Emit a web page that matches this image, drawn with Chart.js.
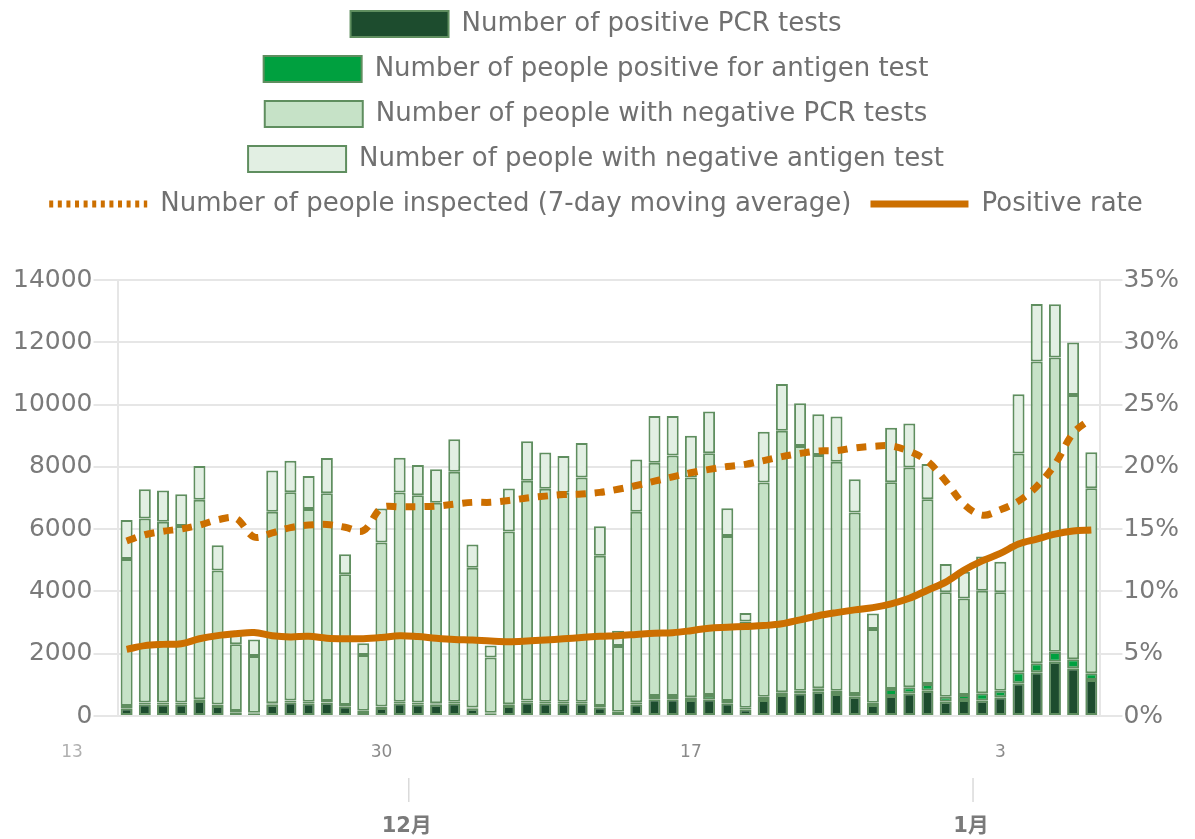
<!DOCTYPE html>
<html>
<head>
<meta charset="utf-8">
<script src="https://cdn.jsdelivr.net/npm/chart.js@4"></script>
<style>
  html, body { margin: 0; padding: 0; background: #fff; }
  #wrap { width: 1195px; height: 839px; }
</style>
</head>
<body>
<div id="wrap"><canvas id="chart"></canvas></div>
<script>
// days shown, 11/16 .. 1/8
const dates = [
  '11/16', '11/17', '11/18', '11/19', '11/20', '11/21', '11/22', '11/23', '11/24', '11/25',
  '11/26', '11/27', '11/28', '11/29', '11/30', '12/1', '12/2', '12/3', '12/4', '12/5',
  '12/6', '12/7', '12/8', '12/9', '12/10', '12/11', '12/12', '12/13', '12/14', '12/15',
  '12/16', '12/17', '12/18', '12/19', '12/20', '12/21', '12/22', '12/23', '12/24', '12/25',
  '12/26', '12/27', '12/28', '12/29', '12/30', '12/31', '1/1', '1/2', '1/3', '1/4',
  '1/5', '1/6', '1/7', '1/8'
];

// stacked bars (people)
const pcrPositive = [
  250, 380, 380, 380, 480, 320, 120, 70, 360, 440,
  410, 430, 310, 130, 260, 410, 380, 360, 410, 230,
  70, 320, 440, 410, 410, 410, 280, 100, 380, 535,
  535, 514, 535, 407, 214, 514, 674, 728, 782, 706,
  621, 353, 642, 728, 813, 460, 514, 492, 599, 1049,
  1402, 1744, 1531, 1156
];
const antigenPositive = [
  70, 50, 50, 50, 60, 50, 40, 35, 50, 55,
  50, 50, 45, 40, 45, 50, 50, 50, 50, 40,
  35, 55, 55, 50, 50, 50, 45, 40, 60, 105,
  107, 86, 139, 75, 50, 107, 86, 85, 107, 107,
  85, 70, 225, 193, 215, 161, 160, 236, 214, 353,
  289, 320, 289, 214
];
const pcrNegative = [
  4720, 5910, 5810, 5670, 6400, 4300, 2140, 1820, 6150, 6690,
  6190, 6670, 4200, 1790, 5270, 6720, 6660, 6440, 7380, 4490,
  1770, 5550, 7060, 6840, 6710, 7200, 4820, 2110, 6120, 7490,
  7720, 7060, 7760, 5300, 2770, 6880, 8400, 7860, 7490, 7350,
  5830, 2370, 6640, 7060, 5930, 3350, 3100, 3290, 3160, 7030,
  9690, 9450, 8490, 5940
];
const antigenNegative = [
  1250, 940, 1000, 1020, 1090, 815, 440, 535, 1320, 1010,
  1060, 1135, 640, 375, 1090, 1110, 970, 1070, 1050, 750,
  385, 1380, 1270, 1160, 1180, 1110, 950, 490, 1680, 1500,
  1270, 1340, 1340, 890, 270, 1630, 1500, 1370, 1310, 1450,
  1070, 500, 1750, 1410, 1130, 910, 860, 1100, 980, 1900,
  1850, 1710, 1680, 1160
];

// lines
const movingAverage = [
  5620, 5820, 5930, 6010, 6130, 6300, 6350, 5750, 5880, 6050,
  6130, 6150, 6060, 5950, 6680, 6720, 6720, 6740, 6800, 6860,
  6860, 6920, 7000, 7060, 7110, 7130, 7180, 7280, 7400, 7540,
  7680, 7810, 7920, 8010, 8080, 8200, 8330, 8430, 8510, 8520,
  8610, 8660, 8670, 8500, 8180, 7540, 6800, 6450, 6620, 6900,
  7370, 8080, 9080, 9550
];
const positiveRate = [
  5.35, 5.65, 5.75, 5.8, 6.2, 6.45, 6.6, 6.7, 6.45, 6.35,
  6.4, 6.25, 6.2, 6.2, 6.3, 6.45, 6.38, 6.25, 6.15, 6.1,
  6.02, 5.97, 6.02, 6.1, 6.2, 6.3, 6.4, 6.45, 6.55, 6.65,
  6.69, 6.85, 7.05, 7.12, 7.19, 7.26, 7.4, 7.72, 8.05, 8.3,
  8.52, 8.7, 9.0, 9.45, 10.1, 10.75, 11.7, 12.45, 13.05, 13.8,
  14.2, 14.6, 14.85, 14.93
];

// x axis labels: day numbers every 17 days (11/13 is 3 days before the first bar)
const dayTickLabels = ['13', '30', '17', '3'];
const dayTickIndex = [-3, 14, 31, 48];
const monthLabels = ['12月', '1月'];
const monthIndex = [15.5, 46.5];

const BORDER = '#5f8e5f';
const ORANGE = '#cc6f00';
const GRID = '#e6e6e6';

Chart.defaults.font.family = '"DejaVu Sans", sans-serif';
Chart.defaults.color = '#7a7a7a';

// room between the legend and the plot
const legendGap = {
  id: 'legendGap',
  beforeInit(chart) {
    const fit = chart.legend.fit;
    chart.legend.fit = function () {
      fit.bind(chart.legend)();
      this.height += 53;
    };
  }
};

// day numbers + month row under the bars
const xLabels = {
  id: 'xLabels',
  afterDraw(chart) {
    const ctx = chart.ctx;
    const xs = chart.scales.x;
    const bottom = chart.chartArea.bottom;
    ctx.save();
    ctx.textAlign = 'center';
    ctx.textBaseline = 'middle';
    ctx.font = '17px "DejaVu Sans", sans-serif';
    dayTickLabels.forEach((t, i) => {
      ctx.fillStyle = dayTickIndex[i] < 0 ? '#b0b0b0' : '#8a8a8a';
      ctx.fillText(t, xs.getPixelForValue(dayTickIndex[i]), bottom + 37);
    });
    ctx.strokeStyle = '#dadada';
    ctx.lineWidth = 1.5;
    ctx.font = 'bold 21px "DejaVu Sans", "Noto Sans CJK JP", sans-serif';
    ctx.fillStyle = '#7a7a7a';
    monthLabels.forEach((t, i) => {
      const px = xs.getPixelForValue(monthIndex[i]);
      ctx.beginPath();
      ctx.moveTo(px, bottom + 62);
      ctx.lineTo(px, bottom + 86);
      ctx.stroke();
      ctx.fillText(t, px - 2, bottom + 111);
    });
    ctx.restore();
  }
};

function barSet(label, data, color) {
  return {
    label: label,
    data: data,
    backgroundColor: color,
    borderColor: BORDER,
    borderWidth: 2,
    borderSkipped: false,
    categoryPercentage: 1,
    barPercentage: 0.66,
    yAxisID: 'y'
  };
}

new Chart(document.getElementById('chart'), {
  type: 'bar',
  data: {
    labels: dates,
    datasets: [
      barSet('Number of positive PCR tests', pcrPositive, '#1d4c2e'),
      barSet('Number of people positive for antigen test', antigenPositive, '#00a03f'),
      barSet('Number of people with negative PCR tests', pcrNegative, '#c6e2c7'),
      barSet('Number of people with negative antigen test', antigenNegative, '#e2efe3'),
      {
        type: 'line',
        label: 'Number of people inspected (7-day moving average)',
        data: movingAverage,
        borderColor: ORANGE,
        borderWidth: 7,
        borderDash: [10, 9],
        pointRadius: 0,
        tension: 0.35,
        fill: false,
        yAxisID: 'y',
        order: -1
      },
      {
        type: 'line',
        label: 'Positive rate',
        data: positiveRate,
        borderColor: ORANGE,
        borderWidth: 7,
        pointRadius: 0,
        tension: 0.35,
        fill: false,
        yAxisID: 'y1',
        order: -1
      }
    ]
  },
  options: {
    responsive: true,
    maintainAspectRatio: false,
    animation: false,
    layout: { padding: { top: -8, left: 12, right: 15, bottom: 0 } },
    plugins: {
      tooltip: { enabled: false },
      legend: {
        position: 'top',
        labels: {
          usePointStyle: true,
          pointStyleWidth: 98,
          boxHeight: 28,
          padding: 19,
          color: '#707070',
          font: { size: 26 },
          sort: (a, b) => a.datasetIndex - b.datasetIndex,
          generateLabels(chart) {
            const items = Chart.defaults.plugins.legend.labels.generateLabels(chart);
            items.forEach(item => {
              const ds = chart.data.datasets[item.datasetIndex];
              if (ds.type === 'line') {
                item.pointStyle = 'line';
                item.lineWidth = 7;
                item.lineDash = ds.borderDash ? [4, 4.6] : [];
              } else {
                item.pointStyle = 'rect';
                item.lineWidth = 2;
              }
            });
            return items;
          }
        }
      }
    },
    scales: {
      x: {
        stacked: true,
        offset: true,
        grid: { display: false },
        border: { display: false },
        ticks: { display: false },
        afterFit(scale) { scale.height = 123; }
      },
      y: {
        stacked: true,
        position: 'left',
        min: 0,
        max: 14000,
        ticks: { stepSize: 2000, padding: 1, font: { size: 25 }, callback: v => String(v) },
        grid: { color: GRID, lineWidth: 2, tickLength: 24 },
        border: { color: GRID, width: 2 }
      },
      y1: {
        position: 'right',
        min: 0,
        max: 35,
        ticks: { stepSize: 5, padding: 1, font: { size: 25 }, callback: v => v + '%' },
        grid: { drawOnChartArea: false, color: GRID, lineWidth: 2, tickLength: 22 },
        border: { color: GRID, width: 2 }
      }
    }
  },
  plugins: [legendGap, xLabels]
});
</script>
</body>
</html>
